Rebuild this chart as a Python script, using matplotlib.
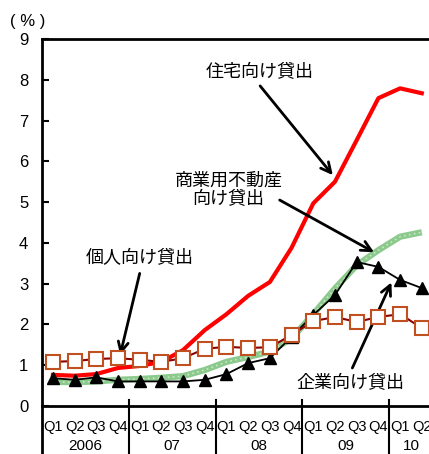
import matplotlib.pyplot as plt
import numpy as np

plt.rcParams['font.family'] = ['Liberation Sans', 'Noto Sans CJK JP', 'DejaVu Sans']

quarters = ["Q1", "Q2", "Q3", "Q4"] * 4 + ["Q1", "Q2"]
years = ["2006", "07", "08", "09", "10"]

residential = [0.76, 0.74, 0.78, 0.93, 0.98, 1.08, 1.37, 1.86, 2.25, 2.70,
               3.04, 3.88, 4.97, 5.50, 6.52, 7.55, 7.79, 7.67]
commercial_re = [0.59, 0.58, 0.60, 0.64, 0.66, 0.69, 0.73, 0.88, 1.08, 1.20,
                 1.33, 1.66, 2.25, 2.88, 3.45, 3.82, 4.15, 4.26]
corporate = [0.68, 0.64, 0.70, 0.60, 0.60, 0.60, 0.60, 0.64, 0.78, 1.05,
             1.17, 1.70, 2.23, 2.72, 3.53, 3.41, 3.09, 2.89]
personal = [1.08, 1.10, 1.15, 1.17, 1.13, 1.08, 1.17, 1.40, 1.45, 1.42,
            1.44, 1.74, 2.08, 2.18, 2.06, 2.18, 2.25, 1.91]

x = np.arange(len(quarters))

fig = plt.figure(figsize=(4.29, 4.54), dpi=100)
ax = fig.add_axes([0.098, 0.106, 0.9105, 0.808])

# green line with a light dotted texture
ax.plot(x, commercial_re, color="#8cc98c", linewidth=4.5, solid_capstyle="butt", zorder=2)
ax.plot(x, commercial_re, color="#c8e8c8", linewidth=1.2, linestyle=(0, (1, 2)), zorder=2.1)
ax.plot(x, residential, color="#ff0000", linewidth=3, zorder=3)
ax.plot(x, corporate, color="black", linewidth=1.3, marker="^", markersize=9, zorder=4)
ax.plot(x, personal, color="#8b0000", linewidth=1.5, marker="s", markersize=9.5,
        markerfacecolor="white", markeredgecolor="#c0501f", markeredgewidth=1.5, zorder=5)

ax.set_xlim(-0.5, len(quarters) - 0.5)
ax.set_ylim(0, 9)
ax.set_yticks(range(0, 10))
ax.tick_params(axis="y", direction="in", length=5, width=1.5, pad=10, labelsize=12)
ax.spines["right"].set_visible(False)
for s in ["left", "top", "bottom"]:
    ax.spines[s].set_linewidth(2)

# quarter labels and year groups
ax.set_xticks(x)
ax.set_xticklabels(quarters, fontsize=10.5)
ax.tick_params(axis="x", length=0, pad=10)
starts = [0, 4, 8, 12, 16]
trans = ax.get_xaxis_transform()
for i, st in enumerate(starts):
    end = min(st + 4, len(quarters))
    ax.text((st + end - 1) / 2, -0.11, years[i], transform=trans, ha="center", va="center",
            fontsize=11)
    ax.plot([st - 0.5, st - 0.5], [0, -0.2], transform=trans, color="black",
            linewidth=1.5 if st else 2, clip_on=False)
    if st:
        ax.plot([st - 0.5, st - 0.5], [0, 0.015], transform=trans, color="black",
                linewidth=1.5, clip_on=False)

fig.text(0.023, 0.952, "( % )", fontsize=12, ha="left", va="center")

jp = ["Noto Sans CJK JP"]
fs = 13
arrow = dict(arrowstyle="->", color="black", lw=2, mutation_scale=18, shrinkA=0, shrinkB=0)
ax.text(9.55, 8.2, "住宅向け貸出", ha="center", va="center", fontsize=fs, family=jp)
ax.annotate("", xy=(12.9, 5.66), xytext=(9.55, 7.85), arrowprops=arrow)
ax.text(8.1, 5.3, "商業用不動産\n向け貸出", ha="center", va="center", fontsize=fs,
        family=jp, linespacing=1.05)
ax.annotate("", xy=(14.8, 3.77), xytext=(10.45, 5.05), arrowprops=arrow)
ax.text(4.0, 3.63, "個人向け貸出", ha="center", va="center", fontsize=fs, family=jp)
ax.annotate("", xy=(3.1, 1.25), xytext=(4.0, 3.25), arrowprops=arrow)
ax.text(13.7, 0.56, "企業向け貸出", ha="center", va="center", fontsize=fs, family=jp)
ax.annotate("", xy=(15.6, 3.03), xytext=(13.8, 0.93), arrowprops=arrow)

fig.savefig("out.png", dpi=100)
